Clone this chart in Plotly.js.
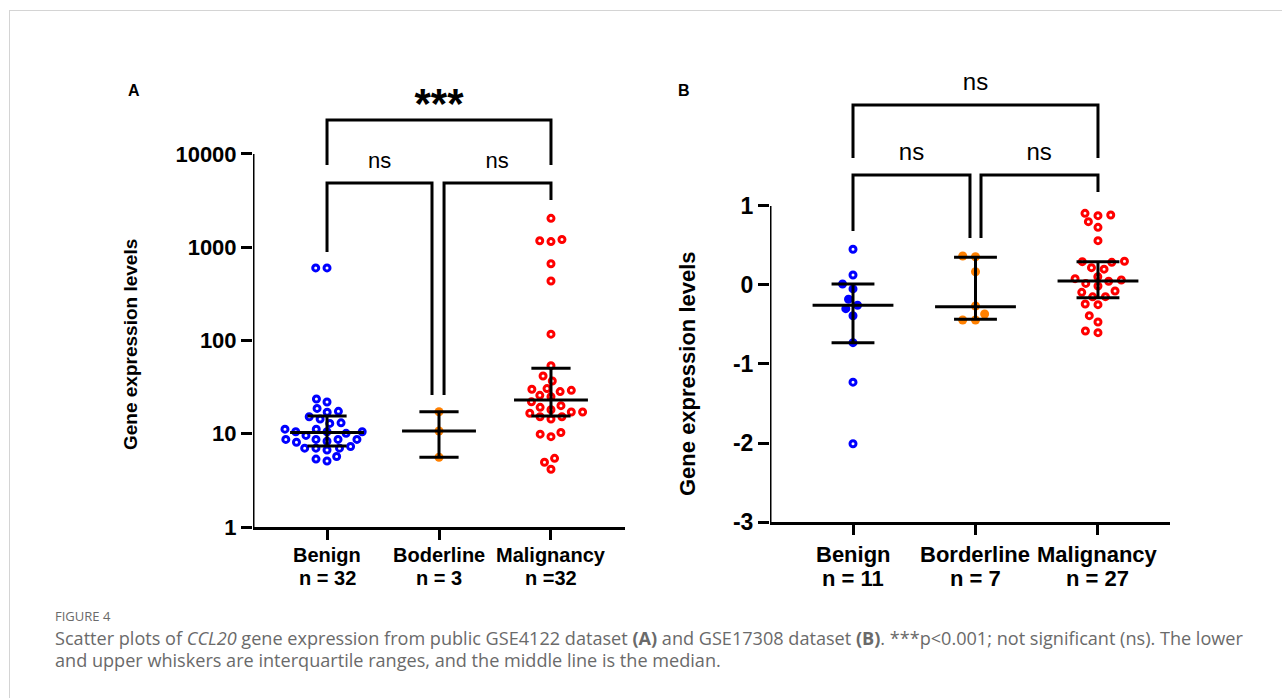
<!DOCTYPE html>
<html><head><meta charset="utf-8">
<script src="https://cdn.plot.ly/plotly-3.0.1.min.js"></script>
<style>
html,body{margin:0;padding:0;background:#fff;width:1282px;height:698px;overflow:hidden;}
#card{position:absolute;left:9px;top:10px;width:1300px;height:720px;border-left:1.5px solid #d4d4d4;border-top:1.5px solid #d4d4d4;}
#chart{position:absolute;left:0;top:0;width:1282px;height:698px;}
#fig{position:absolute;left:55px;top:607px;font-family:'Open Sans',sans-serif;font-size:13px;color:#6a6a6a;}
#cap{position:absolute;left:55px;top:627px;font-family:'Open Sans',sans-serif;font-size:18.1px;line-height:22px;color:#6a6a6a;white-space:nowrap;}
</style></head>
<body>
<div id="card"></div>
<div id="chart"></div>
<div id="fig">FIGURE 4</div>
<div id="cap">Scatter plots of <i>CCL20</i> gene expression from public GSE4122 dataset <b>(A)</b> and GSE17308 dataset <b>(B)</b>. ***p&lt;0.001; not significant (ns). The lower<br>and upper whiskers are interquartile ranges, and the middle line is the median.</div>
<script>
// ---------- Panel A data (GSE4122, log scale) ----------
const categoriesA = ['Benign', 'Boderline', 'Malignancy'];
const countsA = ['n = 32', 'n = 3', 'n =32'];
const benignA = [600, 600, 23.6, 21.9, 18.7, 17.4, 17.0, 15.2, 14.4, 12.9, 13.1, 11.2, 11.2, 10.5, 10.5, 10.5, 10.1,
  9.6, 8.7, 8.7, 8.7, 8.7, 8.3, 8.1, 7.3, 7.0, 7.0, 7.0, 6.7, 5.7, 5.35, 5.1];
const borderlineA = [17.2, 10.7, 5.6];
const malignancyA = [2040, 1175, 1210, 1150, 666, 435, 117, 53.7, 41.6, 36.8, 29.2, 30, 28.3, 30.5, 25, 25.8, 22,
  19.2, 20, 15.2, 17.1, 17.1, 18.1, 16.6, 14.4, 15.2, 9.9, 9.3, 10.3, 5.45, 4.95, 4.16];
const medianA = [10.3, 10.7, 23];
const q1A = [7.4, 5.6, 15.5];
const q3A = [15.5, 17.2, 50.3];
const yTicksA = [1, 10, 100, 1000, 10000];

// ---------- Panel B data (GSE17308, linear) ----------
const categoriesB = ['Benign', 'Borderline', 'Malignancy'];
const countsB = ['n = 11', 'n = 7', 'n = 27'];
const benignB = [0.452, 0.127, 0.013, -0.05, -0.18, -0.257, -0.30, -0.39, -0.73, -1.23, -2.01];
const borderlineB = [0.358, 0.367, 0.168, -0.266, -0.367, -0.443, -0.443];
const malignancyB = [0.907, 0.886, 0.878, 0.802, 0.730, 0.561, 0.30, 0.287, 0.295, 0.20, 0.219, 0.105, 0.08, 0.063,
  0.047, 0.02, -0.013, -0.076, -0.093, -0.148, -0.15, -0.249, -0.24, -0.388, -0.468, -0.603, -0.582];
const medianB = [-0.257, -0.275, 0.05];
const q1B = [-0.73, -0.434, -0.16];
const q3B = [0.013, 0.35, 0.295];
const yTicksB = [-3, -2, -1, 0, 1];

const BLUE = '#0000ff', RED = '#ff0000', ORANGE = '#ff8000';
const FONT = 'Liberation Sans, Arial, sans-serif';

// beeswarm: offsets (category units) from pixel positions, elliptical collision
function swarm(vals, toPx, dx, dy, pxPerCat) {
  const idx = vals.map((v, i) => i).sort((a, b) => toPx(vals[a]) - toPx(vals[b]));
  const placed = [], off = new Array(vals.length);
  idx.forEach(i => {
    const y = toPx(vals[i]);
    const ints = [];
    placed.forEach(p => {
      const r = Math.abs(p.y - y) / dy;
      if (r < 1) { const h = dx * Math.sqrt(1 - r * r); ints.push([p.x - h, p.x + h]); }
    });
    const cands = [0];
    ints.forEach(iv => cands.push(iv[0], iv[1]));
    cands.sort((a, b) => (Math.abs(a) - Math.abs(b)) || (a - b));
    let x = 0;
    for (const c of cands) {
      if (ints.every(iv => c <= iv[0] + 1e-6 || c >= iv[1] - 1e-6)) { x = c; break; }
    }
    placed.push({ x, y });
    off[i] = x / pxPerCat;
  });
  return off;
}

const pxA = 112, pxB = 122.5;
const toPxA = v => Math.log10(v) * 93.25;
const toPxB = v => v * 79;

function pointsTrace(vals, cat, toPx, dx, pxCat, color, open, xa, ya, symbols) {
  const off = swarm(vals, toPx, dx, 8.6, pxCat);
  return {
    type: 'scatter', mode: 'markers', xaxis: xa, yaxis: ya, hoverinfo: 'skip', showlegend: false,
    x: vals.map((v, i) => cat + off[i]), y: vals,
    marker: open
      ? { symbol: symbols || 'circle-open', size: 6, color: color, line: { width: 3, color: color } }
      : { symbol: 'circle', size: 9, color: color, line: { width: 0 } }
  };
}

function errTrace(med, q1, q3, xa, ya) {
  const x = [], y = [];
  med.forEach((m, c) => {
    x.push(c - 0.33, c + 0.33, null, c - 0.175, c + 0.175, null, c - 0.175, c + 0.175, null, c, c, null);
    y.push(m, m, null, q1[c], q1[c], null, q3[c], q3[c], null, q1[c], q3[c], null);
  });
  return { type: 'scatter', mode: 'lines', x, y, xaxis: xa, yaxis: ya, hoverinfo: 'skip', showlegend: false,
    line: { color: '#000', width: 3 }, connectgaps: false };
}

function lineTrace(x, y, xa, ya) {
  return { type: 'scatter', mode: 'lines', x, y, xaxis: xa, yaxis: ya, hoverinfo: 'skip', showlegend: false,
    line: { color: '#000', width: 3 }, cliponaxis: false, connectgaps: false };
}
function textTrace(x, y, t, size, bold, xa, ya) {
  return { type: 'scatter', mode: 'text', x: x, y: y, text: t, xaxis: xa, yaxis: ya, hoverinfo: 'skip',
    showlegend: false, cliponaxis: false, textposition: 'middle center',
    textfont: { family: FONT, size: size, color: '#000', weight: bold ? 'bold' : 'normal' } };
}

const xrA = [-0.661, 2.661];
const xrB = [-0.6776, 2.588];
const catIdx = [0, 1, 2];

// blue panel-B points inside the IQR are drawn filled
const symB = benignB.map(v => (v >= q1B[0] - 1e-9 && v <= q3B[0] + 1e-9) ? 'circle' : 'circle-open');

const p10 = e => Math.pow(10, e);
const traces = [
  pointsTrace(benignA, 0, toPxA, 11.3, pxA, BLUE, true, 'x', 'y'),
  pointsTrace(borderlineA, 1, toPxA, 11.3, pxA, ORANGE, false, 'x', 'y'),
  pointsTrace(malignancyA, 2, toPxA, 11.3, pxA, RED, true, 'x', 'y'),
  errTrace(medianA, q1A, q3A, 'x', 'y'),
  lineTrace([xrA[0], xrA[0]], [1, 10000], 'x', 'y'),
  // brackets A
  lineTrace([0, 0, 2, 2], [p10(3.882), p10(4.365), p10(4.365), p10(3.882)], 'x', 'y'),
  lineTrace([0, 0, 0.9375, 0.9375], [p10(2.949), p10(3.689), p10(3.689), p10(1.4156)], 'x', 'y'),
  lineTrace([1.045, 1.045, 2, 2], [p10(1.4156), p10(3.689), p10(3.689), p10(3.507)], 'x', 'y'),
  textTrace([1], [p10(4.504)], ['***'], 42, true, 'x', 'y'),
  textTrace([0.47, 1.52], [p10(3.914), p10(3.914)], ['ns', 'ns'], 22, false, 'x', 'y'),

  pointsTrace(benignB, 0, toPxB, 12.8, pxB, BLUE, true, 'x2', 'y2', symB),
  pointsTrace(borderlineB, 1, toPxB, 12.8, pxB, ORANGE, false, 'x2', 'y2'),
  pointsTrace(malignancyB, 2, toPxB, 12.8, pxB, RED, true, 'x2', 'y2'),
  errTrace(medianB, q1B, q3B, 'x2', 'y2'),
  lineTrace([xrB[0], xrB[0]], [-3, 1], 'x2', 'y2'),
  lineTrace([0, 0, 2, 2], [1.608, 2.278, 2.278, 1.608], 'x2', 'y2'),
  lineTrace([0, 0, 0.955, 0.955], [0.684, 1.392, 1.392, 0.595], 'x2', 'y2'),
  lineTrace([1.045, 1.045, 2, 2], [0.595, 1.392, 1.392, 1.177], 'x2', 'y2'),
  textTrace([1], [2.545], ['ns'], 24, false, 'x2', 'y2'),
  textTrace([0.4775, 1.52], [1.66, 1.66], ['ns', 'ns'], 24, false, 'x2', 'y2')
];

const W = 1282, H = 698;
const axBase = { showgrid: false, zeroline: false, ticks: 'outside', tickwidth: 3, tickcolor: '#000', fixedrange: true };

// category labels (two lines each) as annotations under each x axis
function catLabels(cats, counts, xref, y1, y2, size) {
  const out = [];
  cats.forEach((c, i) => {
    [[c, y1], [counts[i], y2]].forEach(([t, y]) => out.push({
      text: t, x: i, xref: xref, y: 1 - y / H, yref: 'paper', xanchor: 'center', yanchor: 'middle',
      showarrow: false, font: { family: FONT, size: size, weight: 'bold', color: '#000' }
    }));
  });
  return out;
}

const layout = {
  width: W, height: H, margin: { l: 0, r: 0, t: 0, b: 0 },
  paper_bgcolor: 'rgba(0,0,0,0)', plot_bgcolor: 'rgba(0,0,0,0)', showlegend: false,
  font: { family: FONT, color: '#000' },
  xaxis: Object.assign({}, axBase, {
    domain: [253 / W, 625 / W], range: xrA, showline: true, linecolor: '#000', linewidth: 3, ticklen: 10,
    tickvals: catIdx, showticklabels: false, anchor: 'y'
  }),
  yaxis: Object.assign({}, axBase, {
    domain: [1 - 527 / H, 1 - 100 / H], type: 'log', range: [0, 4.579], showline: false, ticklen: 11,
    tickvals: yTicksA, ticktext: yTicksA.map(String),
    tickfont: { family: FONT, size: 22, weight: 'bold', color: '#000' }, anchor: 'x'
  }),
  xaxis2: Object.assign({}, axBase, {
    domain: [770 / W, 1170 / W], range: xrB, showline: true, linecolor: '#000', linewidth: 3, ticklen: 10,
    tickvals: catIdx, showticklabels: false, anchor: 'y2'
  }),
  yaxis2: Object.assign({}, axBase, {
    domain: [1 - 522 / H, 1 - 75 / H], range: [-3, 2.658], showline: false, ticklen: 11,
    tickvals: yTicksB, ticktext: yTicksB.map(String),
    tickfont: { family: FONT, size: 23, weight: 'bold', color: '#000' }, anchor: 'x2'
  }),
  annotations: [
    { text: 'A', x: 134 / W, y: 1 - 91 / H },
    { text: 'B', x: 684 / W, y: 1 - 91 / H },
  ].map(a => Object.assign(a, { xref: 'paper', yref: 'paper', xanchor: 'center', yanchor: 'middle', showarrow: false,
      font: { family: FONT, size: 16, weight: 'bold', color: '#000' } })).concat([
    { text: 'Gene expression levels', x: 130 / W, y: 1 - 345 / H, size: 19 },
    { text: 'Gene expression levels', x: 687 / W, y: 1 - 374 / H, size: 22 }
  ].map(a => ({ text: a.text, x: a.x, y: a.y, xref: 'paper', yref: 'paper', xanchor: 'center', yanchor: 'middle',
      showarrow: false, textangle: -90, font: { family: FONT, size: a.size, weight: 'bold', color: '#000' } })))
    .concat(catLabels(categoriesA, countsA, 'x', 555, 578, 20))
    .concat(catLabels(categoriesB, countsB, 'x2', 554, 578, 22))
};

Plotly.newPlot('chart', traces, layout, { displayModeBar: false, staticPlot: true });
</script>
</body></html>
